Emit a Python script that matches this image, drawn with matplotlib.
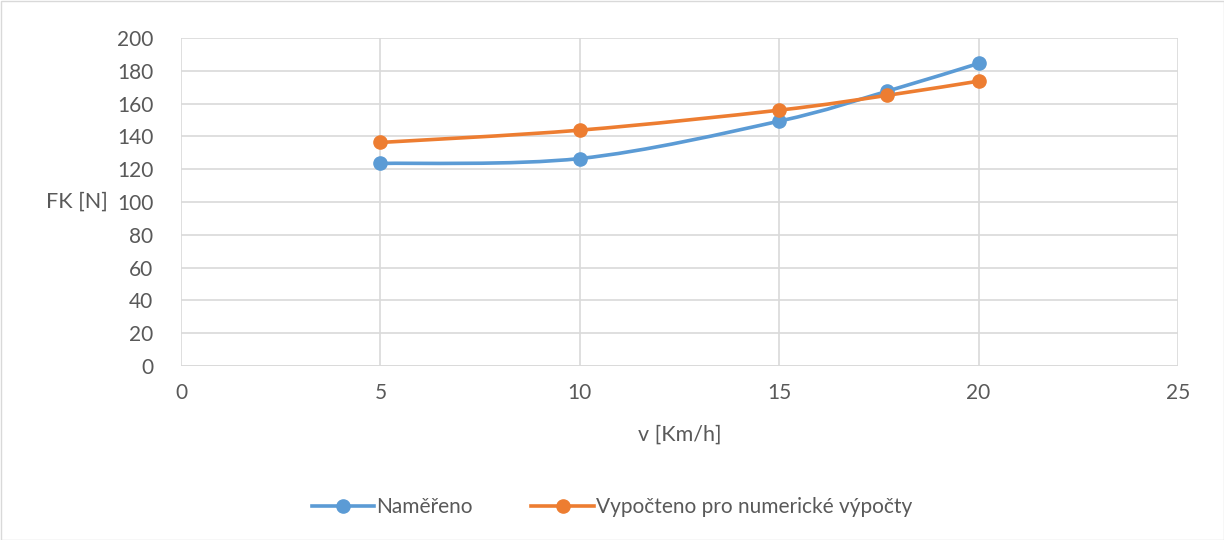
import numpy as np
import matplotlib.pyplot as plt
from matplotlib.path import Path
from matplotlib.patches import PathPatch, Rectangle

# data
v = [5, 10, 15, 17.7, 20]
namereno = [123.5, 126.5, 149.3, 167.5, 184.5]
vypocteno = [136.3, 143.8, 156.0, 165.0, 173.7]

BLUE = "#5b9bd5"
ORANGE = "#ed7d31"
TXT = "#595959"
GRID = "#d9d9d9"

plt.rcParams['font.family'] = ['Lato', 'DejaVu Sans']


def smooth_path(xs, ys):
    # Excel-like smoothed line: cubic bezier with catmull-rom control points
    pts = np.column_stack([xs, ys]).astype(float)
    verts = [pts[0]]
    codes = [Path.MOVETO]
    n = len(pts)
    for i in range(n - 1):
        p0 = pts[i - 1] if i > 0 else pts[i]
        p1 = pts[i]
        p2 = pts[i + 1]
        p3 = pts[i + 2] if i + 2 < n else pts[i + 1]
        c1 = p1 + (p2 - p0) / 6.0
        c2 = p2 - (p3 - p1) / 6.0
        verts += [c1, c2, p2]
        codes += [Path.CURVE4] * 3
    return Path(verts, codes)


fig = plt.figure(figsize=(12.24, 5.4), dpi=100)
ax = fig.add_axes([181 / 1224, 1 - 366 / 540, (1178 - 181) / 1224, (366 - 38) / 540])

for ys, col, lab in [(namereno, BLUE, "Naměřeno"),
                     (vypocteno, ORANGE, "Vypočteno pro numerické výpočty")]:
    ax.add_patch(PathPatch(smooth_path(v, ys), fill=False, edgecolor=col,
                           lw=2.6, capstyle='round', zorder=3))
    ax.plot(v, ys, 'o', color=col, ms=9.5, zorder=4)
    ax.plot([], [], '-o', color=col, lw=2.6, ms=9.5, label=lab)

ax.set_xlim(0, 25)
ax.set_ylim(0, 200)
ax.set_xticks(range(0, 26, 5))
ax.set_yticks(range(0, 201, 20))
ax.grid(True, color=GRID, lw=1.2)
ax.set_axisbelow(True)
for s in ax.spines.values():
    s.set_visible(False)
ax.axhline(0, color=GRID, lw=1.2, zorder=1)
ax.tick_params(axis='y', length=0, labelsize=15, colors=TXT, pad=20)
ax.tick_params(axis='x', length=0, labelsize=15, colors=TXT, pad=12)
ax.set_xlabel("v [Km/h]", fontsize=15.5, color=TXT, labelpad=16)
ax.set_ylabel("FK [N]", fontsize=15.5, color=TXT, rotation=0, labelpad=29, va='center')

leg = fig.legend(loc='center', bbox_to_anchor=(0.5, 1 - 507 / 540), ncol=2,
                 frameon=False, fontsize=15, labelcolor=TXT,
                 handlelength=3, handletextpad=0.1, columnspacing=2.8)

fig.patches.append(Rectangle((0.5 / 1224, 0.5 / 540), 1 - 1 / 1224, 1 - 1 / 540,
                             transform=fig.transFigure, fill=False,
                             edgecolor=GRID, lw=1))

fig.savefig("out.png", dpi=100, facecolor="white")
